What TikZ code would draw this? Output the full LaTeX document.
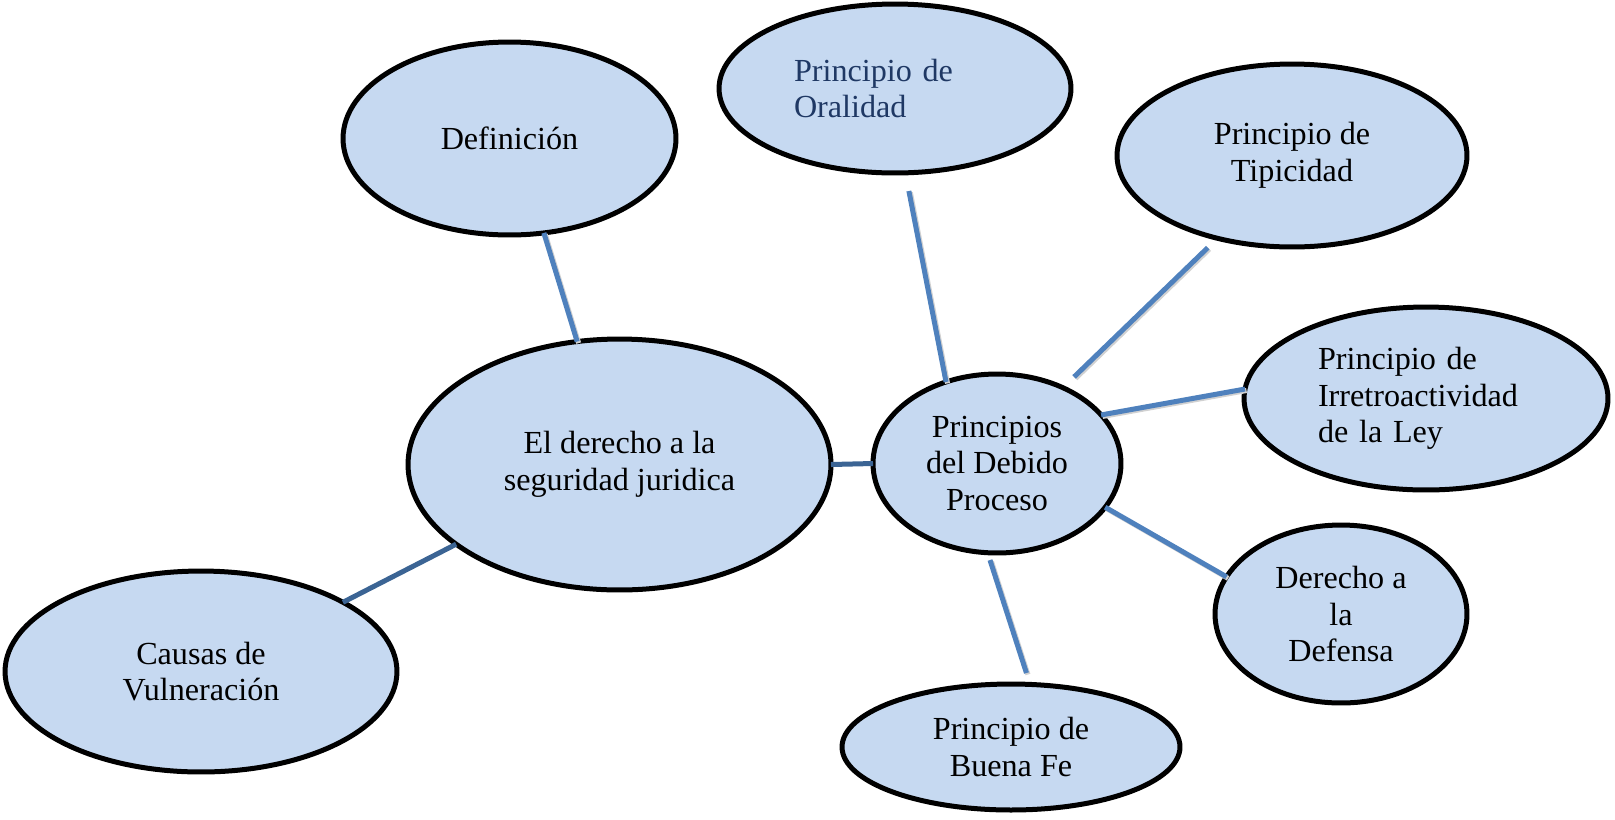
\documentclass[tikz,border=0pt]{standalone}
\usepackage{fontspec}
\setmainfont{Liberation Serif}
\usetikzlibrary{shapes.geometric}
\definecolor{bubblefill}{HTML}{C6D9F1}
\definecolor{linklight}{HTML}{4F81BD}
\definecolor{linkdark}{HTML}{3B6494}
\definecolor{oraltext}{HTML}{1F3864}
\tikzset{
  bubble/.style={ellipse, draw=black, fill=bubblefill, line width=0.1cm,
    inner sep=0pt, outer sep=0pt, align=center,
    font=\fontsize{18.3}{20.8}\selectfont},
  linkl/.style={draw=linklight, line width=0.1cm,
    preaction={draw=black!18, line width=0.1cm,
      transform canvas={shift={(1.5,1.5)}}}},
  linkd/.style={draw=linkdark, line width=0.1cm}
}
\begin{document}
\begin{tikzpicture}[x=0.02cm, y=-0.02cm]
\useasboundingbox (0,0) rectangle (1615,819);
% connectors (drawn first so ellipses sit on top)
\node[bubble, minimum width=6.66cm, minimum height=3.86cm] (def) at (509.5,138.5) {Definición};
\node[bubble, minimum width=7.04cm, minimum height=3.38cm, text width=4.04cm, align=left, text=oraltext] (ora) at (895,88.5) {Principio de\\Oralidad};
\node[bubble, minimum width=7.0cm, minimum height=3.66cm] (tip) at (1292,155.5) {Principio de\\Tipicidad};
\node[bubble, minimum width=7.28cm, minimum height=3.66cm, text width=4.32cm, align=left] (irr) at (1426,398.5) {Principio de\\Irretroactividad\\de la Ley};
\node[bubble, minimum width=5.04cm, minimum height=3.56cm] (dfn) at (1341,614) {Derecho a\\la\\Defensa};
\node[bubble, minimum width=6.76cm, minimum height=2.52cm] (bue) at (1011,747) {Principio de\\Buena Fe};
\node[bubble, minimum width=4.96cm, minimum height=3.58cm] (pri) at (997,463.5) {Principios\\del Debido\\Proceso};
\node[bubble, minimum width=8.46cm, minimum height=5.02cm] (der) at (619.5,464.5) {El derecho a la\\seguridad juridica};
\node[bubble, minimum width=7.84cm, minimum height=4.02cm] (cau) at (201,671.5) {Causas de\\Vulneración};
\draw[linkl] (def.-70.5) -- (der.109);
\draw[linkd] (der.206) -- (cau.26.6);
\draw[linkd] (der.east) -- (pri.west);
\draw[linkl, shorten <=0.37cm] (ora.-83.7) -- (pri.122.3);
\draw[linkl, shorten <=0.27cm, shorten >=0.31cm] (tip.-132.6) -- (pri.49.3);
\draw[linkl] (pri.25.7) -- (irr.177);
\draw[linkl] (pri.-22.3) -- (dfn.162.5);
\draw[linkl, shorten <=0.154cm, shorten >=0.24cm] (pri.-96.6) -- (bue.73.7);
\end{tikzpicture}
\end{document}
